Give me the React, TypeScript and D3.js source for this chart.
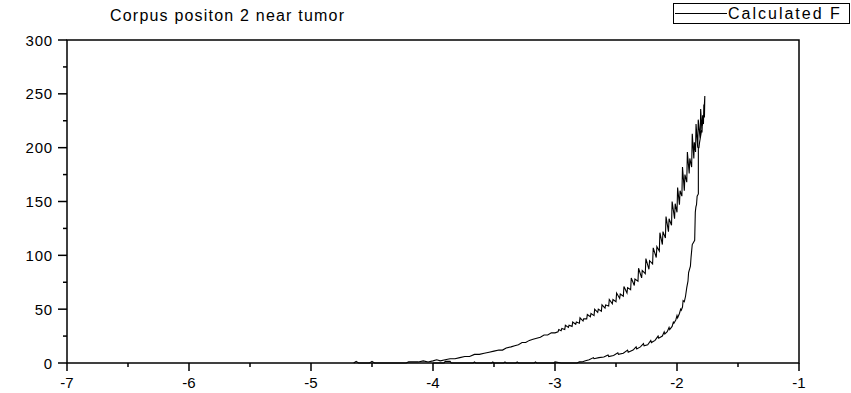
import React from "react";
import * as d3 from "d3";

const title = "Corpus positon 2 near tumor";
const legendLabel = "Calculated F";

const xMajorTicks = [-7, -6, -5, -4, -3, -2, -1];
const xTickLabels = ["-7", "-6", "-5", "-4", "-3", "-2", "-1"];
const xMinorTicks = [-6.5, -5.5, -4.5, -3.5, -2.5, -1.5];
const yMajorTicks = [0, 50, 100, 150, 200, 250, 300];
const yTickLabels = ["0", "50", "100", "150", "200", "250", "300"];
const yMinorTicks = [25, 75, 125, 175, 225, 275];

// loading branch (upper curve)
const loading: [number, number][] = [
  [-4.65, 0], [-4.63, 1.5], [-4.61, 0], [-4.52, 0], [-4.5, 1.5], [-4.48, 0],
  [-4.22, 0], [-4.2, 1], [-4.12, 1], [-4.08, 2], [-4.04, 1], [-4.0, 2], [-3.97, 3],
  [-3.94, 2], [-3.9, 3], [-3.86, 4], [-3.82, 4], [-3.78, 5], [-3.74, 6], [-3.7, 6],
  [-3.66, 8], [-3.62, 8], [-3.58, 9], [-3.54, 10], [-3.5, 11], [-3.46, 12], [-3.43, 12],
  [-3.4, 14], [-3.36, 15], [-3.33, 16], [-3.3, 17], [-3.27, 19], [-3.24, 19], [-3.21, 21],
  [-3.18, 22], [-3.15, 23], [-3.12, 24], [-3.09, 26], [-3.06, 26], [-3.03, 28], [-3.0, 28],
  [-2.975, 29], [-2.969, 31],
  [-2.95, 30], [-2.944, 32], [-2.92, 31], [-2.915, 35], [-2.89, 33], [-2.885, 35],
  [-2.86, 34], [-2.855, 38], [-2.83, 36], [-2.825, 38], [-2.8, 37], [-2.795, 42],
  [-2.77, 39], [-2.765, 41], [-2.74, 41], [-2.735, 45], [-2.71, 43], [-2.705, 46],
  [-2.68, 44], [-2.675, 50], [-2.65, 47], [-2.645, 50], [-2.62, 48], [-2.615, 54],
  [-2.59, 51], [-2.585, 54], [-2.56, 53], [-2.555, 59], [-2.53, 55], [-2.525, 59],
  [-2.5, 57], [-2.495, 65], [-2.47, 60], [-2.465, 64], [-2.44, 62], [-2.435, 71],
  [-2.41, 65], [-2.405, 70], [-2.38, 68], [-2.375, 79], [-2.35, 72], [-2.345, 78],
  [-2.32, 76], [-2.315, 88], [-2.29, 79], [-2.285, 86], [-2.26, 83], [-2.255, 97],
  [-2.23, 87], [-2.225, 95], [-2.2, 92], [-2.195, 107], [-2.17, 98], [-2.165, 108],
  [-2.145, 104], [-2.14, 121], [-2.12, 110], [-2.115, 122], [-2.095, 116], [-2.09, 136],
  [-2.07, 122], [-2.065, 134], [-2.045, 128], [-2.04, 150], [-2.02, 134], [-2.015, 148],
  [-2.0, 140], [-1.995, 163], [-1.98, 147], [-1.975, 160], [-1.96, 155], [-1.955, 182],
  [-1.94, 160], [-1.935, 175], [-1.92, 168], [-1.915, 196], [-1.9, 176], [-1.895, 190],
  [-1.88, 182], [-1.875, 213], [-1.862, 190], [-1.858, 205], [-1.848, 196], [-1.844, 222],
  [-1.83, 200], [-1.826, 226], [-1.81, 208], [-1.806, 236], [-1.795, 214], [-1.79, 230],
  [-1.783, 222], [-1.78, 240], [-1.775, 228], [-1.772, 248],
];

// unloading branch (lower curve)
const unloading: [number, number][] = [
  [-1.78, 230], [-1.79, 222], [-1.8, 215], [-1.815, 205], [-1.82, 200], [-1.825, 200],
  [-1.825, 157], [-1.835, 155], [-1.84, 147], [-1.845, 145], [-1.85, 140], [-1.855, 114],
  [-1.865, 112], [-1.875, 110], [-1.885, 98], [-1.89, 90], [-1.905, 84], [-1.91, 76],
  [-1.92, 70], [-1.93, 62], [-1.94, 57], [-1.95, 58], [-1.955, 52], [-1.965, 49],
  [-1.97, 50], [-1.98, 46], [-1.995, 42], [-2.0, 44], [-2.01, 40], [-2.025, 37],
  [-2.03, 38], [-2.04, 34], [-2.06, 31], [-2.065, 33], [-2.08, 29], [-2.1, 27],
  [-2.105, 29], [-2.12, 25], [-2.15, 23], [-2.155, 25], [-2.18, 21], [-2.21, 19],
  [-2.215, 21], [-2.24, 17], [-2.27, 16], [-2.275, 18], [-2.3, 15], [-2.33, 13],
  [-2.335, 15], [-2.36, 12], [-2.4, 10], [-2.405, 12], [-2.44, 9], [-2.48, 8],
  [-2.485, 9.5], [-2.52, 7], [-2.56, 6], [-2.565, 7.5], [-2.6, 5.5], [-2.64, 5],
  [-2.68, 4], [-2.685, 5], [-2.72, 3], [-2.75, 2], [-2.78, 1], [-2.8, 1], [-2.82, 0],
  [-2.95, 0], [-3.0, 1], [-3.01, 0], [-3.15, 0], [-3.16, 1], [-3.17, 0], [-3.3, 0],
  [-3.31, 1], [-3.32, 0], [-3.4, 0], [-3.41, 1], [-3.42, 0], [-3.5, 0], [-3.51, 1],
  [-3.52, 0], [-3.65, 0], [-3.66, 1], [-3.67, 0], [-3.85, 0], [-3.86, 1.5], [-3.9, 1.5],
  [-3.91, 0], [-4.0, 0],
];

const W = 851;
const H = 393;
const left = 67;
const right = 799;
const top = 40;
const bottom = 363;
const font = "'Liberation Sans', Arial, sans-serif";

export default function App() {
  const x = d3.scaleLinear().domain([-7, -1]).range([left, right]);
  const y = d3.scaleLinear().domain([0, 300]).range([bottom, top]);
  const line = d3
    .line<[number, number]>()
    .x((d) => x(d[0]))
    .y((d) => y(d[1]));
  const pathD = line([...loading, ...unloading]) || "";

  return (
    <svg
      width={W}
      height={H}
      style={{ position: "fixed", left: 0, top: 0, background: "#fff" }}
      fontFamily={font}
    >
      <rect x={0} y={0} width={W} height={H} fill="#fff" />
      <text x={110} y={21} fontSize={16} letterSpacing={1.2} fill="#000">
        {title}
      </text>
      {/* legend */}
      <rect x={673.5} y={3.5} width={176} height={20} fill="#fff" stroke="#000" strokeWidth={1} />
      <line x1={675} x2={727} y1={13.5} y2={13.5} stroke="#000" strokeWidth={1} />
      <text x={728} y={19} fontSize={16} letterSpacing={2} fill="#000">
        {legendLabel}
      </text>

      {/* data */}
      <path d={pathD} fill="none" stroke="#000" strokeWidth={1.1} />

      {/* frame */}
      <rect
        x={left}
        y={top}
        width={right - left}
        height={bottom - top}
        fill="none"
        stroke="#000"
        strokeWidth={1.5}
      />
      {/* y ticks */}
      {yMajorTicks.map((t, i) => (
        <g key={"ym" + t}>
          <line x1={left - 9} x2={left} y1={y(t)} y2={y(t)} stroke="#000" strokeWidth={1.5} />
          <text
            x={53}
            y={y(t) + 5.5}
            fontSize={15}
            letterSpacing={0.8}
            textAnchor="end"
            fill="#000"
          >
            {yTickLabels[i]}
          </text>
        </g>
      ))}
      {yMinorTicks.map((t) => (
        <line key={"yn" + t} x1={left - 4} x2={left} y1={y(t)} y2={y(t)} stroke="#000" strokeWidth={1.5} />
      ))}
      {/* x ticks */}
      {xMajorTicks.map((t, i) => (
        <g key={"xm" + t}>
          <line x1={x(t)} x2={x(t)} y1={bottom} y2={bottom + 8} stroke="#000" strokeWidth={1.5} />
          <text x={x(t)} y={388} fontSize={15} textAnchor="middle" fill="#000">
            {xTickLabels[i]}
          </text>
        </g>
      ))}
      {xMinorTicks.map((t) => (
        <line key={"xn" + t} x1={x(t)} x2={x(t)} y1={bottom} y2={bottom + 4} stroke="#000" strokeWidth={1.5} />
      ))}
    </svg>
  );
}
